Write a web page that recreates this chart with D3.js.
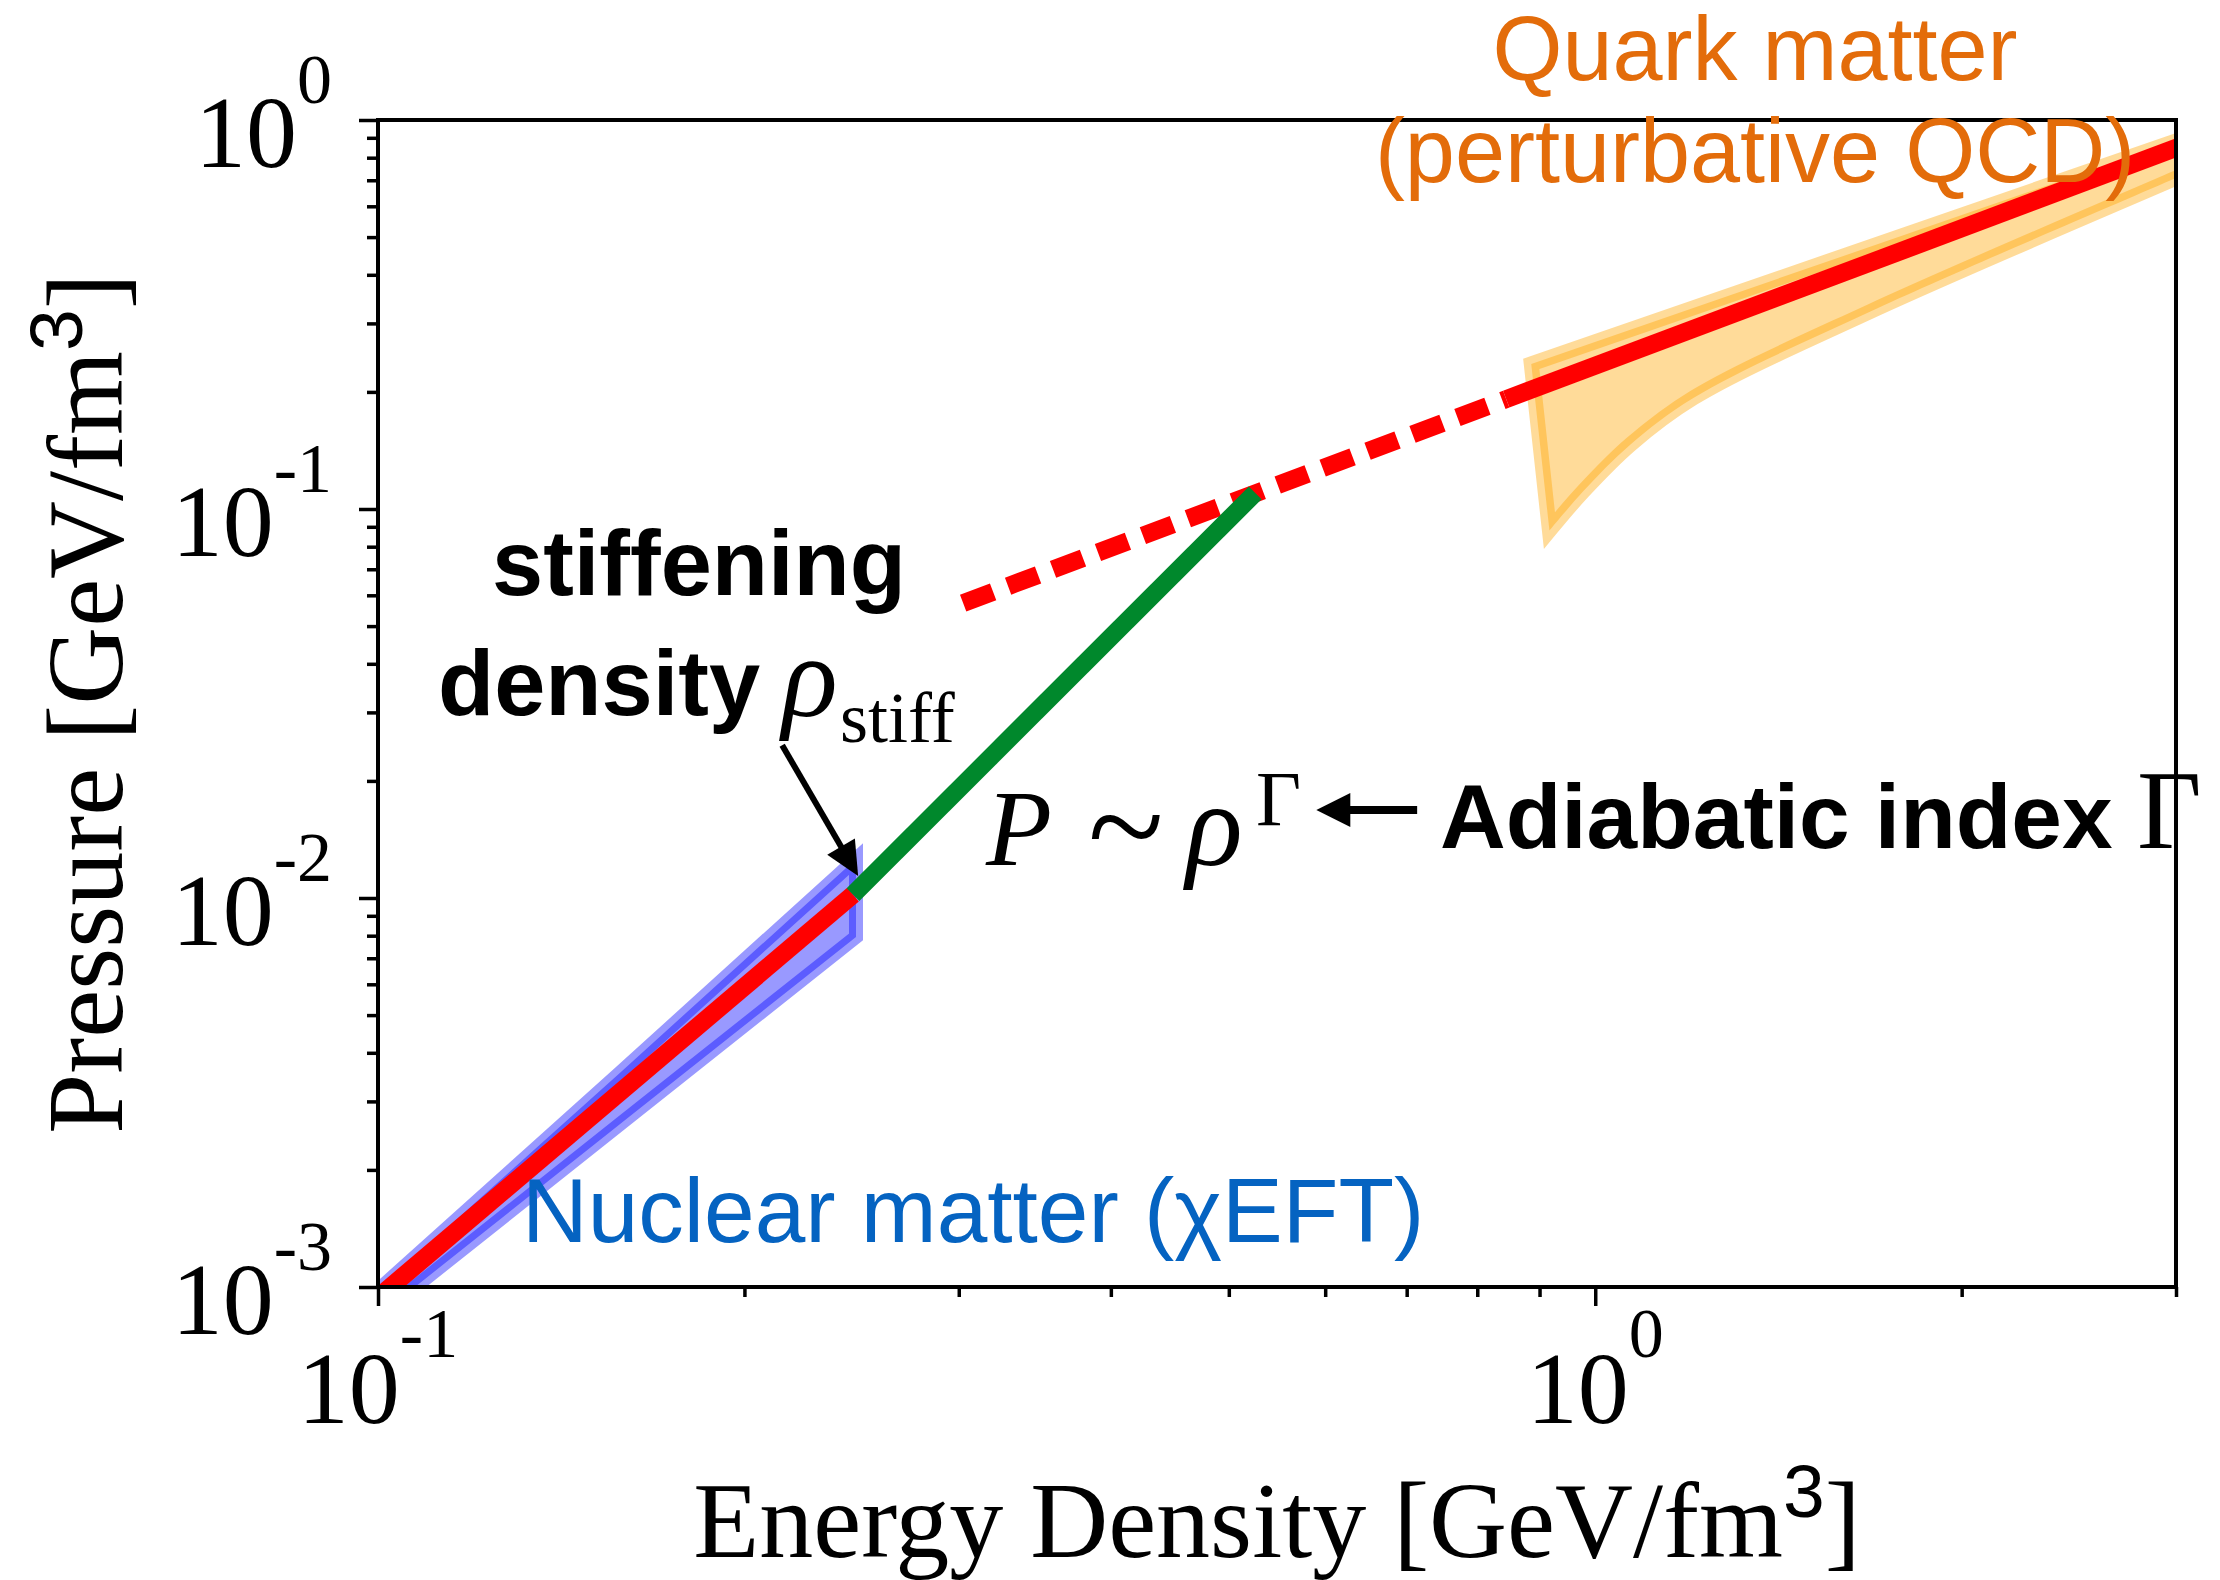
<!DOCTYPE html>
<html>
<head>
<meta charset="utf-8">
<script src="https://cdn.jsdelivr.net/npm/d3@7"></script>
<style>
    body { margin: 0; background: #fff; }
    text { font-family: 'Liberation Serif', 'Times New Roman', serif; }
    .sans { font-family: 'Liberation Sans', Arial, sans-serif; }
</style>
</head>
<body>
<div id="eos"></div>
<script>
    var W = 2220, H = 1580;
    var plot = {left: 378, right: 2176, top: 120, bottom: 1287};

    // axes
    var xDomain = [0.1, 3], yDomain = [1e-3, 1];
    var xMajor = [0.1, 1], xMajorExp = ['-1', '0'];
    var yMajor = [1e-3, 1e-2, 1e-1, 1], yMajorExp = ['-3', '-2', '-1', '0'];

    // nuclear matter (chiEFT) band and red EoS below the stiffening density
    var nucBandE  = [0.095, 0.158, 0.247];
    var nucBandHi = [0.00085, 0.00355, 0.0126];
    var nucBandLo = [0.00074, 0.00262, 0.00794];
    var nucE = [0.1, 0.2456], nucP = [0.00094, 0.0102];

    // stiff segment P ~ rho^Gamma
    var stiffE = [0.2456, 0.5256], stiffP = [0.0102, 0.110];

    // extrapolated (dashed) and pQCD (solid) red line
    var extE = [0.3025, 0.845], extP = [0.0573, 0.1916];
    var qcdE = [0.845, 3.2], qcdP = [0.1916, 0.914];

    // quark matter (pQCD) band
    var qBandHiE = [0.886, 3.2], qBandHiP = [0.236, 0.947];
    var qBandLoE = [0.917, 0.9775, 1.069, 1.204, 1.683, 3.0, 3.2];
    var qBandLoP = [0.088, 0.111, 0.1465, 0.193, 0.322, 0.709, 0.774];

    // annotation arrows [from, to] in data coords
    var stiffArrow = [[0.2148, 0.0247], [0.248, 0.01139]];
    var gammaArrow = [[0.714, 0.01683], [0.590, 0.01683]];

    var x = d3.scaleLog().domain(xDomain).range([plot.left, plot.right]);
    var y = d3.scaleLog().domain(yDomain).range([plot.bottom, plot.top]);

    var svg = d3.select('#eos').append('svg')
        .attr('width', W).attr('height', H)
        .style('background', '#fff');

    svg.append('clipPath').attr('id', 'clip')
        .append('rect')
        .attr('x', plot.left).attr('y', plot.top)
        .attr('width', plot.right - plot.left)
        .attr('height', plot.bottom - plot.top);

    function pairs(xs, ys){ return xs.map(function(v, i){ return [v, ys[i]]; }); }
    var line = d3.line().x(function(d){ return x(d[0]); }).y(function(d){ return y(d[1]); });
    var smooth = d3.line().x(function(d){ return x(d[0]); }).y(function(d){ return y(d[1]); })
        .curve(d3.curveCatmullRom.alpha(0.5));

    var g = svg.append('g').attr('clip-path', 'url(#clip)');

    // bands
    g.append('path')
        .attr('d', line(pairs(qBandHiE, qBandHiP)) +
            smooth(pairs(qBandLoE, qBandLoP).reverse()).replace(/^M/, 'L') + 'Z')
        .attr('fill', 'orange').attr('fill-opacity', 0.4)
        .attr('stroke', 'orange').attr('stroke-opacity', 0.4)
        .attr('stroke-width', 15).attr('stroke-linejoin', 'miter').attr('stroke-miterlimit', 20);

    g.append('path')
        .attr('d', line(pairs(nucBandE, nucBandHi).concat(pairs(nucBandE, nucBandLo).reverse())) + 'Z')
        .attr('fill', 'blue').attr('fill-opacity', 0.4)
        .attr('stroke', 'blue').attr('stroke-opacity', 0.4)
        .attr('stroke-width', 14).attr('stroke-linejoin', 'miter').attr('stroke-miterlimit', 20);

    // lines
    g.append('path').attr('d', line(pairs(nucE, nucP)))
        .attr('fill', 'none').attr('stroke', 'red').attr('stroke-width', 18);
    g.append('path').attr('d', line(pairs(extE, extP)))
        .attr('fill', 'none').attr('stroke', 'red').attr('stroke-width', 18)
        .attr('stroke-dasharray', '32,16');
    g.append('path').attr('d', line(pairs(qcdE, qcdP)))
        .attr('fill', 'none').attr('stroke', 'red').attr('stroke-width', 18);
    g.append('path').attr('d', line(pairs(stiffE, stiffP)))
        .attr('fill', 'none').attr('stroke', '#00882c').attr('stroke-width', 18);

    // frame
    svg.append('rect')
        .attr('x', plot.left).attr('y', plot.top)
        .attr('width', plot.right - plot.left)
        .attr('height', plot.bottom - plot.top)
        .attr('fill', 'none').attr('stroke', '#000').attr('stroke-width', 4);

    // ticks
    var yMinor = [], xMinor = [];
    yMajor.slice(0, 3).forEach(function(d){ for(var k = 2; k < 10; k++) yMinor.push(d * k); });
    for(var k = 2; k < 10; k++) xMinor.push(0.1 * k);
    xMinor.push(2, 3);

    function tickAxis(axis, tr){
        var a = svg.append('g').attr('transform', tr).call(axis);
        a.select('.domain').remove();
        a.selectAll('line').attr('stroke', '#000').attr('stroke-width', 3.5);
    }
    tickAxis(d3.axisLeft(y).tickValues(yMinor).tickSize(11).tickFormat(''), 'translate(' + plot.left + ',0)');
    tickAxis(d3.axisLeft(y).tickValues(yMajor).tickSize(19).tickFormat(''), 'translate(' + plot.left + ',0)');
    tickAxis(d3.axisBottom(x).tickValues(xMinor).tickSize(10).tickFormat(''), 'translate(0,' + plot.bottom + ')');
    tickAxis(d3.axisBottom(x).tickValues(xMajor).tickSize(19).tickFormat(''), 'translate(0,' + plot.bottom + ')');

    // tick labels 10^n
    svg.selectAll('.ylab').data(yMajor).join('text')
        .attr('class', 'ylab')
        .attr('x', plot.left - 46)
        .attr('y', function(d){ return y(d) + 47; })
        .attr('text-anchor', 'end').attr('font-size', 102)
        .text('10')
        .append('tspan').attr('dy', -64).attr('font-size', 70)
        .text(function(d, i){ return yMajorExp[i]; });

    svg.selectAll('.xlab').data(xMajor).join('text')
        .attr('class', 'xlab')
        .attr('x', function(d){ return x(d); })
        .attr('y', 1423)
        .attr('text-anchor', 'middle').attr('font-size', 102)
        .text('10')
        .append('tspan').attr('dy', -66).attr('font-size', 70)
        .text(function(d, i){ return xMajorExp[i]; });

    // axis titles
    function unitTitle(sel, label){
        sel.attr('font-size', 108).attr('text-anchor', 'middle').text(label + ' [GeV/fm');
        sel.append('tspan').attr('class', 'sans').attr('font-size', 75).attr('dy', -40).text('3');
        sel.append('tspan').attr('dy', 40).text(']');
    }
    unitTitle(svg.append('text').attr('x', (plot.left + plot.right) / 2).attr('y', 1557), 'Energy Density');
    unitTitle(svg.append('text').attr('transform', 'translate(122,' + (plot.top + plot.bottom) / 2 + ') rotate(-90)'), 'Pressure');

    // arrows
    function arrow(pts, lw, headLen, headW){
        var x0 = x(pts[0][0]), y0 = y(pts[0][1]), x1 = x(pts[1][0]), y1 = y(pts[1][1]);
        var len = Math.hypot(x1 - x0, y1 - y0), ux = (x1 - x0) / len, uy = (y1 - y0) / len;
        var bx = x1 - ux * headLen, by = y1 - uy * headLen;
        svg.append('line').attr('x1', x0).attr('y1', y0).attr('x2', bx + ux * 2).attr('y2', by + uy * 2)
            .attr('stroke', '#000').attr('stroke-width', lw);
        svg.append('path')
            .attr('d', 'M' + x1 + ',' + y1 + 'L' + (bx - uy * headW) + ',' + (by + ux * headW) +
                'L' + (bx + uy * headW) + ',' + (by - ux * headW) + 'Z')
            .attr('fill', '#000');
    }
    arrow(stiffArrow, 6, 34, 16);
    arrow(gammaArrow, 8, 34, 17);

    // annotations
    var orange = '#e36c0a', blueTxt = '#0563c1';
    svg.append('text').attr('class', 'sans').attr('x', 1755).attr('y', 80)
        .attr('text-anchor', 'middle').attr('font-size', 90).attr('fill', orange).text('Quark matter');
    svg.append('text').attr('class', 'sans').attr('x', 1755).attr('y', 182)
        .attr('text-anchor', 'middle').attr('font-size', 90).attr('fill', orange).text('(perturbative QCD)');

    svg.append('text').attr('class', 'sans').attr('x', 522).attr('y', 1242)
        .attr('font-size', 91).attr('fill', blueTxt).text('Nuclear matter (\u03c7EFT)');

    svg.append('text').attr('class', 'sans').attr('x', 492).attr('y', 595)
        .attr('font-size', 92).attr('font-weight', 'bold').text('stiffening');
    svg.append('text').attr('class', 'sans').attr('x', 438).attr('y', 715)
        .attr('font-size', 92).attr('font-weight', 'bold').text('density');
    svg.append('text').attr('x', 782).attr('y', 716)
        .attr('font-size', 116).attr('font-style', 'italic').text('\u03c1');
    svg.append('text').attr('x', 840).attr('y', 742)
        .attr('font-size', 72).text('stiff');

    svg.append('text').attr('x', 986).attr('y', 865)
        .attr('font-size', 108).attr('font-style', 'italic').text('P');
    svg.append('text').attr('x', 1088).attr('y', 873)
        .attr('font-size', 140).text('~');
    svg.append('text').attr('x', 1186).attr('y', 865)
        .attr('font-size', 118).attr('font-style', 'italic').text('\u03c1');
    svg.append('text').attr('x', 1256).attr('y', 825)
        .attr('font-size', 78).text('\u0393');

    svg.append('text').attr('class', 'sans').attr('x', 1440).attr('y', 848)
        .attr('font-size', 91).attr('font-weight', 'bold').text('Adiabatic index');
    svg.append('text').attr('x', 2137).attr('y', 848)
        .attr('font-size', 112).text('\u0393');
</script>
</body>
</html>
